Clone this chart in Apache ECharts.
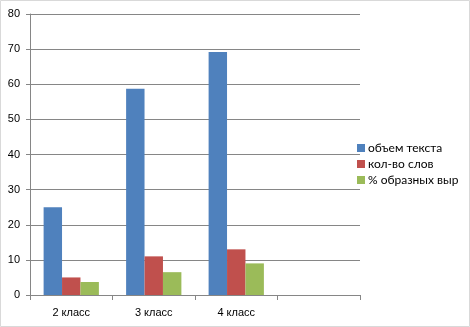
<!DOCTYPE html>
<html><head><meta charset="utf-8">
<script src="https://cdn.jsdelivr.net/npm/echarts@6/dist/echarts.min.js"></script>
<style>html,body{margin:0;padding:0;background:#fff}#c{width:470px;height:327px}</style>
</head><body><div id="c"></div>
<script>
const categories = ['2 класс', '3 класс', '4 класс', ''];
const seriesNames = ['объем текста', 'кол-во слов', '% образных выр'];
const volumeText = [25, 58.7, 69.2, null];
const wordCount = [5, 11, 13, null];
const figurative = [3.7, 6.5, 9, null];
const colors = ['#4F81BD', '#C0504D', '#9BBB59'];
const yTicks = {min: 0, max: 80, interval: 10};

const chart = echarts.init(document.getElementById('c'));
const font = 'Liberation Sans, Arial, sans-serif';
const lfont = 'Lato, Liberation Sans, sans-serif';
const mk = (name, data, i) => ({
  name, type: 'bar', data, barGap: '0%', barCategoryGap: '33%',
  itemStyle: {color: colors[i]}
});
chart.setOption({
  animation: false,
  textStyle: {fontFamily: font},
  graphic: [{type: 'rect', shape: {x: 0.5, y: 0.5, width: 469, height: 326},
    style: {fill: 'none', stroke: '#d9d9d9', lineWidth: 1}}],
  grid: {left: 30, right: 110, top: 14, bottom: 32, containLabel: false},
  legend: {
    orient: 'vertical', left: 352, top: 137, itemWidth: 8, itemHeight: 8, itemGap: 4,
    icon: 'rect', textStyle: {fontSize: 12, color: '#000', fontFamily: lfont, padding: [0,0,0,-2]},
    data: seriesNames
  },
  xAxis: {
    type: 'category', data: categories,
    axisLine: {lineStyle: {color: '#868686'}},
    axisTick: {show: true, alignWithLabel: false, length: 5, lineStyle: {color: '#868686'}},
    axisLabel: {color: '#000', fontSize: 11, margin: 12, fontFamily: font}
  },
  yAxis: {
    type: 'value', min: yTicks.min, max: yTicks.max, interval: yTicks.interval,
    axisLine: {show: true, lineStyle: {color: '#868686'}},
    axisTick: {show: true, length: 4, lineStyle: {color: '#868686'}},
    splitLine: {lineStyle: {color: '#868686'}},
    axisLabel: {color: '#000', fontSize: 11, margin: 10, fontFamily: font}
  },
  series: [mk(seriesNames[0], volumeText, 0), mk(seriesNames[1], wordCount, 1), mk(seriesNames[2], figurative, 2)]
});
</script></body></html>
